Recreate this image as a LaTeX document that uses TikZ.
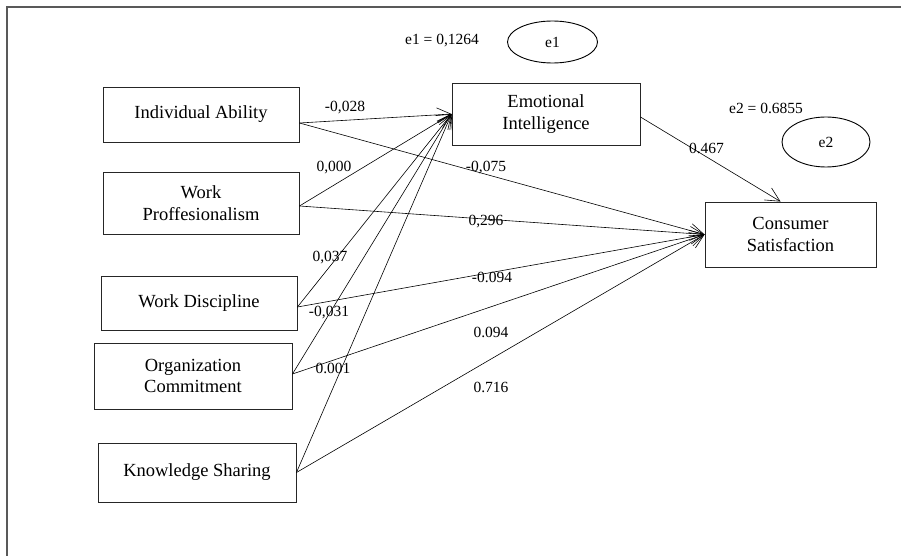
\documentclass[tikz,border=0pt]{standalone}
\usepackage{fontspec}
\setmainfont{Liberation Serif}
\usetikzlibrary{arrows.meta,shapes.geometric}
\begin{document}
\begin{tikzpicture}[x=1pt,y=-1pt,
  box/.style={draw=black!85, line width=0.9pt, inner sep=0pt, align=center, font=\fontsize{18.5}{21.5}\selectfont},
  lbl/.style={inner sep=0pt, font=\fontsize{15.5}{18}\selectfont},
  conn/.style={draw=black, line width=0.6pt, -{Straight Barb[length=14pt,width=14pt]}},
  err/.style={draw=black, ellipse, line width=0.9pt, inner sep=0pt, font=\fontsize{15.5}{18}\selectfont}]
\useasboundingbox (0,0) rectangle (901,556);
\draw[black!65, line width=1.3pt] (901,7) -- (7,7) -- (7,556);
% boxes
\node[box, minimum width=196pt, minimum height=55pt] (ia) at (201,114.5) {Individual Ability};
\node[box, minimum width=196pt, minimum height=62pt] (wp) at (201,203) {Work\\Proffesionalism};
\node[box, minimum width=196pt, minimum height=54pt] (wd) at (199,303) {Work Discipline};
\node[box, minimum width=198pt, minimum height=66pt] (oc) at (193,376) {Organization\\Commitment};
\node[box, minimum width=198pt, minimum height=59pt] (ks) at (197,472.5) {Knowledge Sharing};
\node[box, minimum width=188pt, minimum height=62pt] (ei) at (546,114) {Emotional\\Intelligence};
\node[box, minimum width=171pt, minimum height=65pt] (cs) at (790.5,234.5) {Consumer\\Satisfaction};
% error terms
\node[err, minimum width=90pt, minimum height=42pt] (e1) at (552.5,42) {e1};
\node[err, minimum width=88pt, minimum height=50pt] (e2) at (826,142) {e2};
\node[lbl] (e1v) at (442,41) {e1 = 0,1264};
\node[lbl] (e2v) at (766,108) {e2 = 0.6855};
% connectors
\draw[conn] ([yshift=-8.5pt]ia.east) -- (ei.west);
\draw[conn] ([yshift=-8.5pt]ia.east) -- (cs.west);
\draw[conn] ([yshift=-3pt]wp.east) -- (ei.west);
\draw[conn] ([yshift=-3pt]wp.east) -- (cs.west);
\draw[conn] ([yshift=-4pt]wd.east) -- (ei.west);
\draw[conn] ([yshift=-4pt]wd.east) -- (cs.west);
\draw[conn] ([yshift=2pt]oc.east) -- (ei.west);
\draw[conn] ([yshift=2pt]oc.east) -- (cs.west);
\draw[conn] (ks.east) -- (ei.west);
\draw[conn] (ks.east) -- (cs.west);
\draw[conn] ([yshift=-3pt]ei.east) -- ([xshift=-10pt]cs.north);
% path coefficients
\node[lbl] (l1) at (345,108) {-0,028};
\node[lbl] (l2) at (334,168) {0,000};
\node[lbl] (l3) at (486,168) {-0,075};
\node[lbl] (l4) at (706.5,148) {0.467};
\node[lbl] (l5) at (486,222) {0,296};
\node[lbl] (l6) at (330,258) {0,037};
\node[lbl] (l7) at (492,277) {-0.094};
\node[lbl] (l8) at (329,313) {-0,031};
\node[lbl] (l9) at (491,332) {0.094};
\node[lbl] (l10) at (333,368) {0.001};
\node[lbl] (l11) at (491,387) {0.716};
\end{tikzpicture}
\end{document}
